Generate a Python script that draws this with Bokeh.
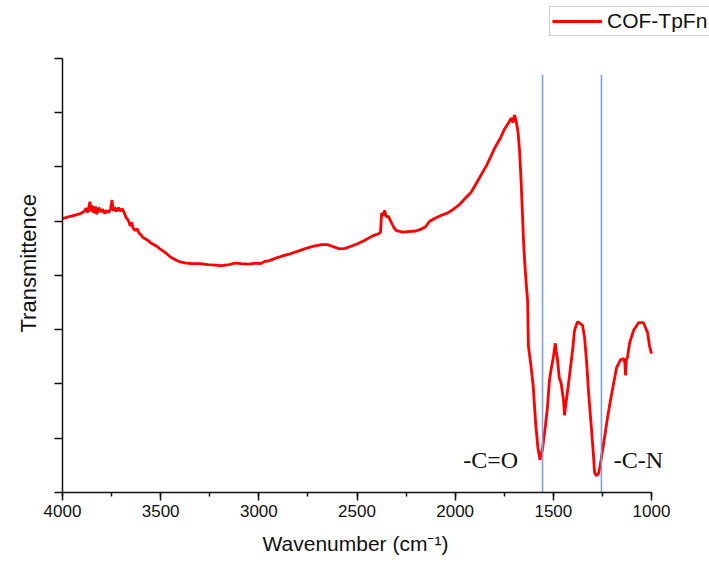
from bokeh.plotting import figure
from bokeh.models import Range1d, SingleIntervalTicker, CustomJSTickFormatter, Legend, LegendItem, ColumnDataSource, Title
from bokeh.core.properties import value
from bokeh.embed import file_html
from bokeh.resources import INLINE

# ---- data ----
wavenumber = [
    4000, 3970, 3940, 3910, 3890, 3880, 3872, 3865, 3860, 3855, 3848, 3840, 3832, 3825, 3815, 3805,
    3795, 3785, 3775, 3765, 3755, 3748, 3742, 3735, 3725, 3715, 3705, 3695, 3685, 3675, 3665, 3655,
    3648, 3640, 3630, 3620, 3610, 3600, 3590, 3570, 3550, 3520, 3500, 3475, 3450, 3420, 3400, 3370,
    3340, 3300, 3260, 3220, 3190, 3150, 3120, 3090, 3050, 3010, 2990, 2970, 2950, 2920, 2880, 2840,
    2800, 2760, 2720, 2680, 2650, 2620, 2590, 2560, 2530, 2500, 2460, 2420, 2390, 2380, 2375, 2365,
    2360, 2350, 2340, 2325, 2310, 2300, 2270, 2240, 2200, 2170, 2150, 2130, 2100, 2070, 2040, 2010,
    1980, 1950, 1920, 1900, 1870, 1840, 1820, 1800, 1770, 1750, 1730, 1715, 1705, 1698, 1690, 1680,
    1672, 1665, 1658, 1652, 1645, 1636, 1631, 1627, 1616, 1602, 1590, 1579, 1568, 1562, 1556, 1545,
    1540, 1530, 1520, 1510, 1500, 1490, 1485, 1480, 1470, 1460, 1448, 1443, 1436, 1425, 1402, 1392,
    1377, 1365, 1351, 1341, 1331, 1320, 1305, 1295, 1290, 1280, 1270, 1264, 1244, 1224, 1209, 1193,
    1178, 1157, 1142, 1136, 1132, 1128, 1122, 1112, 1091, 1066, 1041, 1020, 1010, 1000,
]
transmittance = [
    50.5, 50.8, 51.1, 51.4, 51.8, 52.4, 51.6, 52.8, 53.6, 51.8, 52.9, 51.5, 52.7, 51.3, 52.5, 51.7,
    52.2, 51.4, 52.0, 51.6, 52.3, 53.9, 51.9, 52.6, 51.8, 52.5, 51.9, 52.3, 51.5, 50.6, 50.2, 49.1,
    49.8, 48.7, 48.3, 48.6, 47.8, 47.5, 47.0, 46.6, 46.0, 45.4, 44.8, 44.2, 43.4, 42.8, 42.5, 42.3,
    42.2, 42.2, 42.0, 41.9, 41.8, 42.0, 42.3, 42.2, 42.1, 42.3, 42.2, 42.6, 42.7, 43.1, 43.6, 44.0,
    44.5, 45.0, 45.4, 45.7, 45.7, 45.3, 44.9, 45.0, 45.4, 45.8, 46.5, 47.3, 47.7, 48.0, 51.5, 51.0,
    52.0, 50.8, 50.9, 49.8, 48.7, 48.3, 48.0, 48.1, 48.2, 48.6, 49.0, 50.0, 50.6, 51.1, 51.5, 52.2,
    53.0, 54.2, 55.3, 56.5, 58.4, 60.3, 61.8, 63.4, 65.3, 66.9, 68.0, 69.0, 68.2, 69.6, 68.6, 66.5,
    63.0, 58.0, 52.0, 46.5, 42.0, 37.5, 35.4, 27.0, 24.0, 19.4, 12.7, 8.4, 6.0, 7.3, 7.7, 11.0,
    12.4, 15.7, 20.6, 23.0, 24.9, 27.5, 26.0, 24.9, 21.2, 20.1, 17.0, 14.2, 16.4, 19.4, 26.2, 29.9,
    31.5, 31.2, 30.8, 28.6, 24.3, 18.2, 11.4, 6.5, 3.7, 3.1, 3.5, 4.4, 9.0, 13.8, 17.0, 20.1,
    23.0, 24.5, 24.7, 24.0, 21.6, 24.5, 24.9, 27.5, 29.9, 31.3, 31.3, 29.5, 27.0, 25.6,
]
series_name = "COF-TpFn"

marker_lines = [1555, 1255]          # wavenumbers of the vertical guide lines
marker_top = 77.0
band_labels = ["-C=O", "-C-N"]
band_label_x = [1959, 1192]
band_label_y = [5.9, 5.9]

x_label = "Wavenumber (cm\u207b\u00b9)"
y_label = "Transmittence"

# axis extents (data) vs. visible frame (slightly larger so legend/labels are not clipped)
x_axis_bounds = (1000, 4000)
y_axis_bounds = (0, 80)
x_view = (4000, 704.6)
y_view = (0, 90.69)

# ---- figure ----
p = figure(width=709, height=565, output_backend="svg", toolbar_location=None,
           x_range=Range1d(*x_view), y_range=Range1d(*y_view),
           min_border_left=62, min_border_right=0, min_border_top=0, min_border_bottom=73)
p.outline_line_color = None
p.xgrid.visible = False
p.ygrid.visible = False
p.background_fill_color = "white"
p.border_fill_color = "white"

src = ColumnDataSource(dict(x=wavenumber, y=transmittance))
r = p.line("x", "y", source=src, line_color="#ff0000", line_width=2.8)

for w in marker_lines:
    p.segment(x0=[w], y0=[0], x1=[w], y1=[marker_top], line_color="#7f9fdc", line_width=1.6)

p.text(x=band_label_x, y=band_label_y, text=band_labels, text_font=value("Liberation Serif"),
       text_font_size="24px", text_color="#111111", text_baseline="alphabetic", text_align="left")

# x axis
xa = p.xaxis[0]
xa.bounds = x_axis_bounds
xa.ticker = SingleIntervalTicker(interval=500, num_minor_ticks=2)
xa.major_label_text_font = "Liberation Sans"
xa.major_label_text_font_size = "17px"
xa.major_label_text_color = "#111111"
xa.major_label_standoff = 4
xa.major_tick_out = 8
xa.major_tick_in = 0
xa.minor_tick_out = 4
xa.minor_tick_in = 0
xa.axis_line_width = 1.5
xa.major_tick_line_width = 1.5
xa.minor_tick_line_width = 1.5
xa.axis_line_color = "#111111"
xa.major_tick_line_color = "#111111"
xa.minor_tick_line_color = "#111111"

# y axis
ya = p.yaxis[0]
ya.bounds = y_axis_bounds
ya.ticker = SingleIntervalTicker(interval=10, num_minor_ticks=0)
ya.formatter = CustomJSTickFormatter(code="return ''")
ya.major_label_standoff = 0
ya.major_tick_out = 8
ya.major_tick_in = 0
ya.minor_tick_line_color = None
ya.axis_line_width = 1.5
ya.major_tick_line_width = 1.5
ya.axis_line_color = "#111111"
ya.major_tick_line_color = "#111111"

# axis titles, placed under / beside the drawn axes rather than the (wider) frame
xt = Title(text=x_label, align="left", offset=200, standoff=20,
           text_font="Liberation Sans", text_font_size="21px", text_font_style="normal",
           text_color="#111111")
p.add_layout(xt, "below")
yt = Title(text=y_label, align="left", offset=160, standoff=27,
           text_font="Liberation Sans", text_font_size="22px", text_font_style="normal",
           text_color="#111111")
p.add_layout(yt, "left")

legend = Legend(items=[LegendItem(label=series_name, renderers=[r])], location=(487, 456))
legend.label_text_font = "Liberation Sans"
legend.label_text_font_size = "21px"
legend.label_text_color = "#111111"
legend.glyph_width = 50
legend.glyph_height = 22
legend.label_height = 22
legend.label_standoff = 5
legend.padding = 2
legend.margin = 0
legend.spacing = 0
legend.border_line_color = "#999999"
legend.border_line_width = 1
legend.background_fill_alpha = 1
p.add_layout(legend, "center")

open("out.html", "w").write(file_html(p, INLINE))
